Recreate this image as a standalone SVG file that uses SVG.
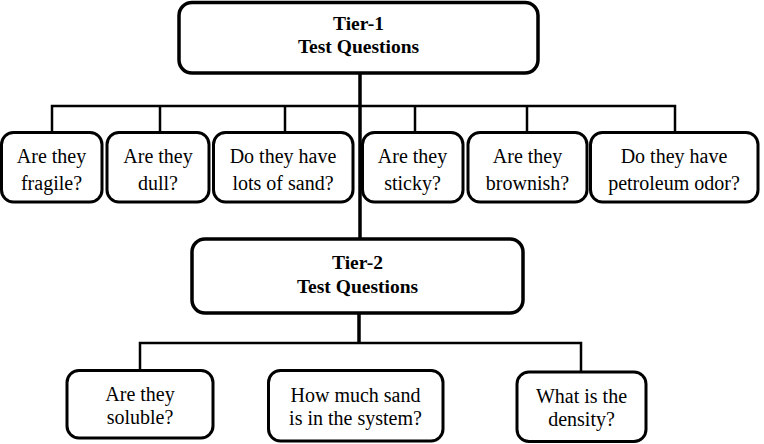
<svg xmlns="http://www.w3.org/2000/svg" width="764" height="444" viewBox="0 0 764 444">
<style>
.box{fill:#fff;stroke:#000;stroke-width:3}
.tier{fill:#fff;stroke:#000;stroke-width:3.5}
.t{font-family:"Liberation Serif","Times New Roman",serif;font-size:20px;text-anchor:middle;fill:#000}
.b{font-family:"Liberation Serif","Times New Roman",serif;font-size:19.5px;font-weight:bold;text-anchor:middle;fill:#000}
.thin{stroke:#000;stroke-width:2.5;fill:none}
.thick{stroke:#000;stroke-width:3.5;fill:none}
</style>
<rect width="764" height="444" fill="#fff"/>
<g id="connectors">
<line class="thick" x1="360" y1="73" x2="360" y2="239"/>
<line class="thick" x1="359" y1="313" x2="359" y2="343"/>
<polyline class="thin" points="52,133 52,106 675,106 675,133"/>
<line class="thin" x1="160" y1="106" x2="160" y2="133"/>
<line class="thin" x1="285" y1="106" x2="285" y2="133"/>
<line class="thin" x1="415" y1="106" x2="415" y2="133"/>
<line class="thin" x1="527" y1="106" x2="527" y2="133"/>
<polyline class="thin" points="140,371 140,343 581,343 581,372"/>
</g>
<g id="tier1">
<rect class="tier" x="179" y="2.5" width="359" height="70.5" rx="13"/>
<text class="b" x="358.5" y="30">Tier-1</text>
<text class="b" x="358.5" y="53">Test Questions</text>
</g>
<g id="q1">
<rect class="box" x="1.5" y="132.5" width="100.5" height="69.5" rx="12"/>
<text class="t" x="51.5" y="163">Are they</text>
<text class="t" x="51.5" y="190">fragile?</text>
</g>
<g id="q2">
<rect class="box" x="107" y="132.5" width="102" height="69.5" rx="12"/>
<text class="t" x="158" y="163">Are they</text>
<text class="t" x="158" y="190">dull?</text>
</g>
<g id="q3">
<rect class="box" x="213.5" y="132.5" width="139.5" height="69.5" rx="12"/>
<text class="t" x="283" y="163">Do they have</text>
<text class="t" x="283" y="190">lots of sand?</text>
</g>
<g id="q4">
<rect class="box" x="362.5" y="132.5" width="100.5" height="69.5" rx="12"/>
<text class="t" x="412.5" y="163">Are they</text>
<text class="t" x="412.5" y="190">sticky?</text>
</g>
<g id="q5">
<rect class="box" x="468" y="132.5" width="119" height="69.5" rx="12"/>
<text class="t" x="527.5" y="163">Are they</text>
<text class="t" x="527.5" y="190">brownish?</text>
</g>
<g id="q6">
<rect class="box" x="590.5" y="132.5" width="167.5" height="69.5" rx="12"/>
<text class="t" x="674" y="163">Do they have</text>
<text class="t" x="674" y="190">petroleum odor?</text>
</g>
<g id="tier2">
<rect class="tier" x="192" y="239" width="331" height="74" rx="13"/>
<text class="b" x="357.5" y="269">Tier-2</text>
<text class="b" x="357.5" y="293">Test Questions</text>
</g>
<g id="r1">
<rect class="box" x="67" y="370.5" width="146" height="67.5" rx="12"/>
<text class="t" x="140" y="401">Are they</text>
<text class="t" x="140" y="424">soluble?</text>
</g>
<g id="r2">
<rect class="box" x="268.5" y="370.5" width="174.5" height="70.5" rx="12"/>
<text class="t" x="355.5" y="402">How much sand</text>
<text class="t" x="355.5" y="425">is in the system?</text>
</g>
<g id="r3">
<rect class="box" x="517" y="372" width="129" height="69.5" rx="12"/>
<text class="t" x="581.5" y="403">What is the</text>
<text class="t" x="581.5" y="426">density?</text>
</g>
</svg>
